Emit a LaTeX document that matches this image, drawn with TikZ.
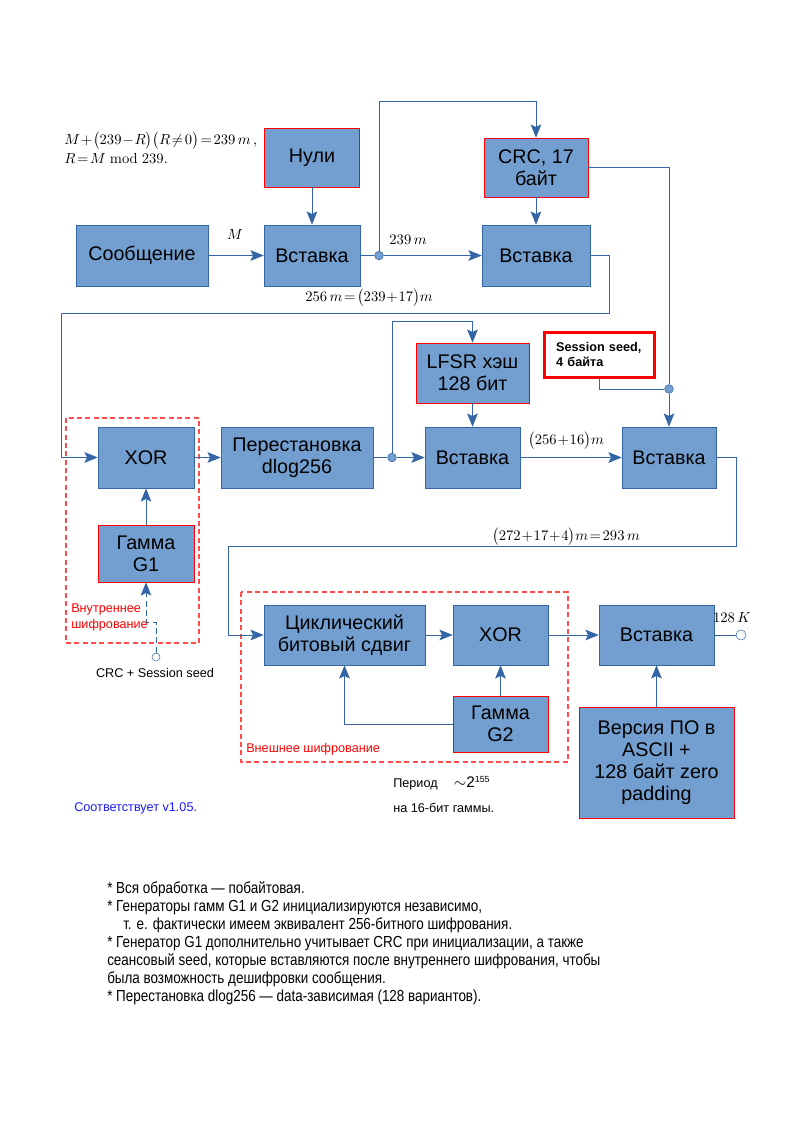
\documentclass[tikz,border=0pt]{standalone}
\usepackage{amsmath}
\usepackage[no-math]{fontspec}
\setmainfont{Liberation Sans}
\newfontfamily\narrowfont[FakeStretch=0.84]{Liberation Sans}
\usepackage{tikz}
\usetikzlibrary{arrows.meta,calc,positioning}
\definecolor{blkfill}{HTML}{729FCF}
\definecolor{blkline}{HTML}{3465A4}
\definecolor{dashred}{HTML}{FF4D4D}
\definecolor{vercol}{HTML}{1A1AFF}
\newcommand{\boxfont}{\fontsize{14.8}{16.5}\selectfont}
\newcommand{\lblfont}{\fontsize{9.5}{11.3}\selectfont}

\begin{document}
\begin{tikzpicture}[x=0.75pt,y=-0.75pt,>={Stealth[length=10pt,width=8pt,inset=2pt]},
  blk/.style={draw=blkline,fill=blkfill,font=\boxfont,align=center,inner sep=0pt},
  gen/.style={blk,draw=red},
  sz/.style 2 args={minimum width=#1*0.75pt,minimum height=#2*0.75pt},
  seedbox/.style={draw=red,line width=2.25pt,fill=white,font=\bfseries\fontsize{9.5}{11}\selectfont,align=left,text width=65pt,inner xsep=9pt,minimum height=33.75pt},
  wire/.style={draw=blkline,line width=0.75pt},
  dot/.style={circle,draw=blkline,fill=blkfill,inner sep=0pt,minimum size=6.5pt},
  opn/.style={circle,draw=blkline,fill=white,inner sep=0pt,minimum size=#1},
  area/.style={draw=dashred,line width=0.9pt,dash pattern=on 3.75pt off 2.5pt},
  mlbl/.style={font=\fontsize{11}{13}\selectfont,inner sep=0pt},
  txt/.style={font=\lblfont,inner sep=0pt}]
  \useasboundingbox (0,0) rectangle (794,1123);

  \draw[area] (66,418) rectangle (199,643);
  \draw[area] (241,592) rectangle (568,762);

  \node[blk,sz={132}{61}] (msg) at (142,255.5) {Сообщение};
  \node[gen,sz={95}{59}] (zeros) at (312,157.5) {Нули};
  \node[blk,sz={96}{61}] (ins1) at (312,255.5) {Вставка};
  \node[gen,sz={104}{59}] (crc) at (536,167.5) {CRC, 17\\байт};
  \node[blk,sz={108}{61}] (ins2) at (536,255.5) {Вставка};
  \node[blk,sz={96}{61}] (xor1) at (146,457.5) {XOR};
  \node[blk,sz={152}{61}] (perm) at (297,457.5) {Перестановка\\dlog256};
  \node[gen,sz={113}{60}] (lfsr) at (472.5,373) {LFSR хэш\\128 бит};
  \node[blk,sz={95}{61}] (ins3) at (472.5,457.5) {Вставка};
  \node[blk,sz={94}{61}] (ins4) at (669,457.5) {Вставка};
  \node[seedbox] (seed) at (599.5,354.5) {Session seed,\\4 байта};
  \node[gen,sz={96}{57}] (g1) at (146,553.5) {Гамма\\G1};
  \node[blk,sz={161}{60}] (shift) at (344.5,635) {Циклический\\битовый сдвиг};
  \node[blk,sz={95}{60}] (xor2) at (500.5,635) {XOR};
  \node[gen,sz={95}{56}] (g2) at (500.5,724) {Гамма\\G2};
  \node[blk,sz={115}{60}] (ins5) at (656.5,635) {Вставка};
  \node[gen,sz={155}{111}] (ver) at (656.5,762.5) {Версия ПО в\\ASCII +\\128 байт zero\\padding};

  \node[dot] (j1) at (379,255.5) {};
  \node[dot] (j2) at (392,457.5) {};
  \node[dot] (j3) at (669,389) {};
  \node[opn=7.5pt] (out) at (741,635) {};
  \node[opn=6pt] (src) at (156,657) {};
  \coordinate (wrap1) at (61,313);
  \coordinate (wrap2) at (228,546);

  \foreach \a/\b in {msg/ins1,zeros/ins1,crc/ins2,j1/ins2,xor1/perm,j2/ins3,lfsr/ins3,ins3/ins4,j3/ins4,g1/xor1,shift/xor2,g2/xor2,xor2/ins5,ver/ins5}
    \draw[wire,->] (\a) -- (\b);
  \draw[wire] (ins1) -- (j1);
  \draw[wire] (perm) -- (j2);
  \draw[wire] (ins5) -- (out);
  \draw[wire,->] (j1) -- ++(0,-153.5) -| (crc.north);
  \draw[wire,->] (j2) -- ++(0,-136) -| (lfsr.north);
  \draw[wire] (crc.east) -| (j3);
  \draw[wire] (seed.south) |- (j3);
  \draw[wire,->] (ins2.east) -- ++(19,0) |- (wrap1) |- (xor1.west);
  \draw[wire,->] (ins4.east) -- ++(20,0) |- (wrap2) |- (shift.west);
  \draw[wire,->] (g2.west) -| (shift.south);
  \draw[wire,->,dash pattern=on 4.5pt off 2.5pt] (src) -- ++(0,-35) -| (g1.south);

  \node[mlbl,font=\fontsize{10.8}{14.5}\selectfont,anchor=west,align=left] (eqn) at (64,147.5) {$M\!+\!\bigl(239\!-\!R\bigr)\bigl(R\!\neq\!0\bigr)\!=\!239\,m\,,$\\$R\!=\!M\bmod 239.$};
  \node[mlbl] (lblM) at (235,235) {$M$};
  \node[mlbl] (lbl239) at (408,240) {$239\,m$};
  \node[mlbl] (lbl256) at (369,298) {$256\,m\!=\!\bigl(239\!+\!17\bigr)m$};
  \node[mlbl] (lbl272) at (566,441) {$\bigl(256\!+\!16\bigr)m$};
  \node[mlbl] (lbl293) at (566,537) {$\bigl(272\!+\!17\!+\!4\bigr)m\!=\!293\,m$};
  \node[mlbl] (lblK) at (732,618) {$128\,K$};

  \node[txt,red,align=left,anchor=north west] (inner) at (71,604) {Внутреннее\\шифрование};
  \node[txt] (seedsrc) at (155,673) {CRC + Session seed};
  \node[txt,red,anchor=west] (outer) at (246,749) {Внешнее шифрование};
  \node[txt,anchor=west] (period) at (393,783) {Период\quad\ {\fontsize{11.5}{13}\selectfont$\sim$2}\textsuperscript{155}};
  \node[txt,anchor=west] (perbits) at (393,808) {на 16-бит гаммы.};
  \node[txt,vercol,anchor=west] (version) at (74,808) {Соответствует v1.05.};

  \node[inner sep=0pt,anchor=north west,align=left,font=\narrowfont\fontsize{12}{13.5}\selectfont] (notes) at (107,881) {* Вся обработка — побайтовая.\\
* Генераторы гамм G1 и G2 инициализируются независимо,\\
\hspace*{12pt}т. е. фактически имеем эквивалент 256-битного шифрования.\\
* Генератор G1 дополнительно учитывает CRC при инициализации, а также\\
сеансовый seed, которые вставляются после внутреннего шифрования, чтобы\\
была возможность дешифровки сообщения.\\
* Перестановка dlog256 — data-зависимая (128 вариантов).};
\end{tikzpicture}
\end{document}
